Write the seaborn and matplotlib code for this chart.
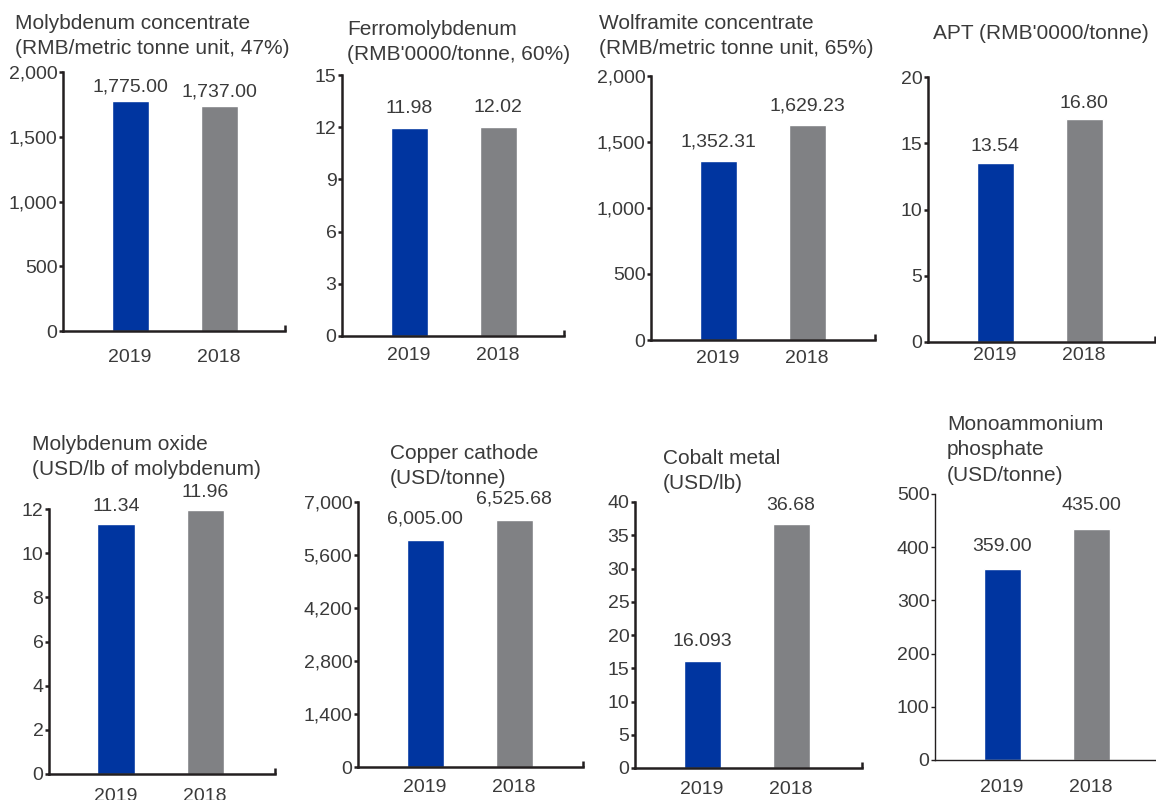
import matplotlib
matplotlib.use("Agg")
import matplotlib.pyplot as plt
import seaborn as sns
import pandas as pd
from matplotlib.ticker import FuncFormatter

sns.set_theme(style="white")
plt.rcParams["font.family"] = ["Liberation Sans", "DejaVu Sans"]

# ---- data -------------------------------------------------------------
years = ["2019", "2018"]

titles = [
    "Molybdenum concentrate\n(RMB/metric tonne unit, 47%)",
    "Ferromolybdenum\n(RMB'0000/tonne, 60%)",
    "Wolframite concentrate\n(RMB/metric tonne unit, 65%)",
    "APT (RMB'0000/tonne)",
    "Molybdenum oxide\n(USD/lb of molybdenum)",
    "Copper cathode\n(USD/tonne)",
    "Cobalt metal\n(USD/lb)",
    "Monoammonium\nphosphate\n(USD/tonne)",
]

moly_concentrate = [1775.00, 1737.00]
ferromolybdenum = [11.98, 12.02]
wolframite = [1352.31, 1629.23]
apt = [13.54, 16.80]
moly_oxide = [11.34, 11.96]
copper_cathode = [6005.00, 6525.68]
cobalt_metal = [16.093, 36.68]
map_fertiliser = [359.00, 435.00]

series = [moly_concentrate, ferromolybdenum, wolframite, apt,
          moly_oxide, copper_cathode, cobalt_metal, map_fertiliser]

# decimals shown in the value labels
decimals = [[2, 2], [2, 2], [2, 2], [2, 2], [2, 2], [2, 2], [3, 2], [2, 2]]

y_ticks = [
    [0, 500, 1000, 1500, 2000],
    [0, 3, 6, 9, 12, 15],
    [0, 500, 1000, 1500, 2000],
    [0, 5, 10, 15, 20],
    [0, 2, 4, 6, 8, 10, 12],
    [0, 1400, 2800, 4200, 5600, 7000],
    [0, 5, 10, 15, 20, 25, 30, 35, 40],
    [0, 100, 200, 300, 400, 500],
]

# ---- layout (pixel boxes: left, right, top, bottom) -------------------
W, H = 1156, 800
boxes = [
    (63, 285, 72, 331),
    (342, 564, 75, 336),
    (651, 875, 76, 340),
    (928, 1155, 77, 342),
    (49, 275, 509, 774),
    (358, 583, 502, 767),
    (635, 862, 502, 768),
    (935, 1156, 494, 760),
]
title_pos = [
    (15, 14), (347, 20), (599, 14), (933, 24),
    (32, 435), (390, 444), (663, 449), (947, 415),
]
xlabel_pad = [13, 8, 7.5, 3.5, 10, 9, 9, 14]      # points
value_gap = [14, 19.5, 19, 16, 17, 20.5, 19, 23]   # px, bar top to label centre
end_tick = [True, True, True, True, True, True, True, False]
spine_w = [1.8, 1.8, 1.8, 1.8, 1.8, 1.8, 1.8, 1.0]

BLUE = "#0035A0"
GREY = "#808184"
TEXT = "#3a3a3a"
AXIS = "#231F20"
FS = 14
FS_TITLE = 15

first_center = 67.0   # px from y-axis to first bar centre
spacing = 89.0        # px between bar centres
bar_px = 37.0

fig = plt.figure(figsize=(W / 100, H / 100), dpi=100)

for i, vals in enumerate(series):
    x0, x1, yt, yb = boxes[i]
    ax = fig.add_axes([x0 / W, 1 - yb / H, (x1 - x0) / W, (yb - yt) / H])
    df = pd.DataFrame({"year": years, "value": vals})
    sns.barplot(data=df, x="year", y="value", hue="year", order=years,
                palette=[BLUE, GREY], width=bar_px / spacing,
                legend=False, ax=ax, saturation=1)

    left = -first_center / spacing
    right = left + (x1 - x0) / spacing
    ax.set_xlim(left, right)
    ticks = y_ticks[i]
    ax.set_ylim(0, ticks[-1])
    ax.set_yticks(ticks)
    if ticks[-1] >= 1000:
        ax.yaxis.set_major_formatter(FuncFormatter(lambda v, p: f"{int(v):,}"))
    else:
        ax.yaxis.set_major_formatter(FuncFormatter(lambda v, p: f"{int(v)}"))

    ax.set_xlabel("")
    ax.set_ylabel("")
    for s in ["top", "right"]:
        ax.spines[s].set_visible(False)
    for s in ["left", "bottom"]:
        ax.spines[s].set_color(AXIS)
        ax.spines[s].set_linewidth(spine_w[i])

    ax.tick_params(axis="y", which="major", direction="out", length=3,
                   width=spine_w[i], color=AXIS, pad=1, labelsize=FS,
                   labelcolor=TEXT, left=True)
    ax.tick_params(axis="x", which="major", length=0, pad=xlabel_pad[i],
                   labelsize=FS, labelcolor=TEXT, bottom=True)
    if end_tick[i]:
        ax.set_xticks([right], minor=True)
        ax.tick_params(axis="x", which="minor", direction="in", length=4,
                       width=spine_w[i], color=AXIS, bottom=True)

    for j, (patch, v) in enumerate(zip(ax.patches, vals)):
        label = f"{v:,.{decimals[i][j]}f}"
        ax.annotate(label, (patch.get_x() + patch.get_width() / 2, v),
                    xytext=(0, value_gap[i] * 0.72), textcoords="offset points",
                    ha="center", va="center", fontsize=FS, color=TEXT,
                    annotation_clip=False)

    tx, ty = title_pos[i]
    fig.text(tx / W, 1 - ty / H, titles[i], ha="left", va="top",
             fontsize=FS_TITLE, color=TEXT, linespacing=1.42)

fig.savefig("out.png", dpi=100)
